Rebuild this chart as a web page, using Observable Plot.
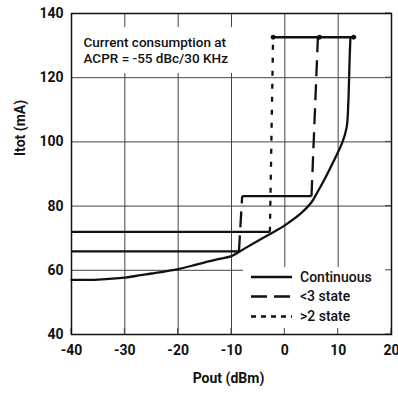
<!DOCTYPE html>
<html><head><meta charset="utf-8">
<script src="https://cdn.jsdelivr.net/npm/d3@7"></script>
<script src="https://cdn.jsdelivr.net/npm/@observablehq/plot@0.6"></script>
<style>
html,body{margin:0;padding:0;background:#fff;}
</style></head><body><div id="chart"></div>
<script>
// ---- data ----
const xTicks = [-40, -30, -20, -10, 0, 10, 20];
const yTicks = [40, 60, 80, 100, 120, 140];
const seriesNames = ["Continuous", "<3 state", ">2 state"];
const noteLines = ["Current consumption at", "ACPR = -55 dBc/30 KHz"];
const xLabel = "Pout (dBm)";
const yLabel = "Itot (mA)";

// Continuous
const contX = [-40, -35, -30, -27, -25, -20, -17, -15, -12, -10, -8.6, -7, -4.6, -2, 0, 3, 5, 6, 7.5, 9, 10.8, 11.6, 11.9, 12.05, 12.15, 12.3];
const contY = [57.0, 57.1, 57.7, 58.5, 59.0, 60.4, 61.6, 62.5, 63.6, 64.4, 65.7, 67.3, 69.6, 72.0, 74.0, 77.7, 81.2, 84.0, 88.5, 93.5, 99.9, 104.6, 112, 120, 126, 132.6];
// <3 state
const lt3X = [-40, -8.6, -8.0, 5.0, 6.2];
const lt3Y = [65.9, 65.9, 83.1, 83.1, 132.6];
// >2 state
const gt2X = [-40, -2.8, -2.2];
const gt2Y = [72.0, 72.0, 132.6];
// top cap line and end dots
const capX = [-2.2, 13.2];
const capY = [132.6, 132.6];
const dotX = [-2.2, 6.5, 12.9];
const dotY = [132.6, 132.6, 132.6];

// ---- helpers ----
const pts = (xs, ys) => xs.map((x, i) => ({x, y: ys[i]}));
const segs = (xs, ys) => xs.slice(1).map((x, i) => ({x1: xs[i], y1: ys[i], x2: x, y2: ys[i + 1], flat: ys[i] === ys[i + 1]}));
const lt3Segs = segs(lt3X, lt3Y);
const gt2Segs = segs(gt2X, gt2Y);

const FONT = 'Roboto, "Liberation Sans", sans-serif';
const INK = "#111";
const LW = 2.3;

function boxes(index, scales, values, dims) {
  const {width, height, marginLeft, marginRight, marginTop, marginBottom} = dims;
  const right = width - marginRight, bottom = height - marginBottom;
  const g = d3.create("svg:g");
  // annotation background
  g.append("rect").attr("x", marginLeft + 1).attr("y", 27).attr("width", 168).attr("height", 46).attr("fill", "white");
  // legend background
  const lx = 243, ly = 267;
  g.append("rect").attr("x", lx).attr("y", ly).attr("width", right - lx).attr("height", bottom - ly).attr("fill", "white");
  // inward tick stubs
  for (const t of xTicks) {
    const px = scales.x(t);
    g.append("line").attr("x1", px).attr("x2", px).attr("y1", bottom - 6).attr("y2", bottom).attr("stroke", "#444").attr("stroke-width", 1);
  }
  for (const t of yTicks) {
    const py = scales.y(t);
    g.append("line").attr("x1", right - 6).attr("x2", right).attr("y1", py).attr("y2", py).attr("stroke", "#444").attr("stroke-width", 1);
  }
  return g.node();
}

function legend(index, scales, values, dims) {
  const g = d3.create("svg:g").attr("font-family", FONT).attr("font-size", 14).attr("font-weight", 500)
    .attr("fill", INK).attr("text-anchor", "start");
  const dashes = [null, "16,7", "5,5"];
  const rows = [277, 296.5, 316.5];
  seriesNames.forEach((name, i) => {
    const l = g.append("line").attr("x1", 251).attr("x2", 292).attr("y1", rows[i]).attr("y2", rows[i])
      .attr("stroke", INK).attr("stroke-width", LW);
    if (dashes[i]) l.attr("stroke-dasharray", dashes[i]);
    g.append("text").attr("x", 300).attr("y", rows[i]).attr("dy", "0.35em").attr("text-anchor", "start").text(name);
  });
  return g.node();
}

const plot = Plot.plot({
  width: 398,
  height: 395,
  marginLeft: 71,
  marginRight: 7,
  marginTop: 13,
  marginBottom: 61,
  style: {fontFamily: FONT, fontSize: "14px", fontWeight: "bold", color: INK, background: "white", overflow: "visible"},
  x: {domain: [-40, 20], ticks: xTicks, tickSize: 0, tickPadding: 11, label: null, tickFormat: d => String(d)},
  y: {domain: [40, 140], ticks: yTicks, tickSize: 0, tickPadding: 8, label: null, tickFormat: d => String(d)},
  marks: [
    Plot.gridX(xTicks, {stroke: "#444", strokeOpacity: 1, strokeWidth: 1}),
    Plot.gridY(yTicks, {stroke: "#444", strokeOpacity: 1, strokeWidth: 1}),
    boxes,
    // Continuous
    Plot.line(pts(contX, contY), {x: "x", y: "y", stroke: INK, strokeWidth: LW, curve: "catmull-rom"}),
    // <3 state
    Plot.link(lt3Segs.filter(d => d.flat), {x1: "x1", y1: "y1", x2: "x2", y2: "y2", stroke: INK, strokeWidth: LW}),
    Plot.link(lt3Segs.filter(d => !d.flat), {x1: "x1", y1: "y1", x2: "x2", y2: "y2", stroke: INK, strokeWidth: LW, strokeDasharray: "16,8"}),
    // >2 state
    Plot.link(gt2Segs.filter(d => d.flat), {x1: "x1", y1: "y1", x2: "x2", y2: "y2", stroke: INK, strokeWidth: LW}),
    Plot.link(gt2Segs.filter(d => !d.flat), {x1: "x1", y1: "y1", x2: "x2", y2: "y2", stroke: INK, strokeWidth: LW, strokeDasharray: "5,8"}),
    // top cap
    Plot.line(pts(capX, capY), {x: "x", y: "y", stroke: INK, strokeWidth: LW}),
    Plot.dot(pts(dotX, dotY), {x: "x", y: "y", r: 2.4, fill: INK, stroke: null}),
    Plot.frame({stroke: INK, strokeWidth: 1.5}),
    legend,
    Plot.text([noteLines.join("\n")], {frameAnchor: "top-left", textAnchor: "start", lineAnchor: "top", dx: 12, dy: 22, lineHeight: 1.19, fontSize: 13.5, fontWeight: 500, fill: INK}),
    Plot.text([xLabel], {frameAnchor: "bottom", dx: -3, dy: 48, fontSize: 14, fontWeight: "bold", fill: INK}),
    Plot.text([yLabel], {frameAnchor: "left", rotate: -90, dx: -51, dy: -18, fontSize: 14, fontWeight: "bold", fill: INK})
  ]
});
document.getElementById("chart").appendChild(plot);
</script>
</body></html>
